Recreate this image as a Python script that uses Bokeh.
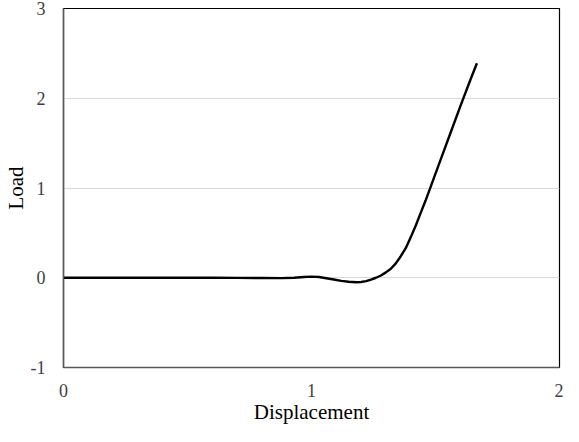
from bokeh.plotting import figure
from bokeh.models import Range1d, FixedTicker
from bokeh.embed import file_html
from bokeh.resources import INLINE

displacement = [0.0, 0.2, 0.4, 0.6, 0.7, 0.8, 0.88, 0.93, 0.97, 1.0, 1.03, 1.06, 1.09, 1.12, 1.15, 1.18, 1.2,
                1.22, 1.24, 1.26, 1.28, 1.3, 1.32, 1.34, 1.36, 1.38, 1.4, 1.42, 1.44, 1.46, 1.48, 1.52, 1.56,
                1.6, 1.64, 1.667]
load = [0.0, 0.0, 0.0, 0.0, -0.001, -0.003, -0.004, 0.0, 0.008, 0.012, 0.008, -0.005, -0.02, -0.035, -0.045,
        -0.05, -0.047, -0.037, -0.02, 0.0, 0.025, 0.06, 0.1, 0.16, 0.24, 0.33, 0.45, 0.58, 0.72, 0.86, 1.01,
        1.31, 1.61, 1.91, 2.2, 2.39]
x_ticks = [0, 1, 2]
y_ticks = [-1, 0, 1, 2, 3]

p = figure(width=563, height=426, output_backend="svg", toolbar_location=None,
           x_range=Range1d(0, 2), y_range=Range1d(-1, 3),
           min_border_left=52, min_border_right=4, min_border_top=8, min_border_bottom=55)

p.line(displacement, load, line_color="black", line_width=2.4, line_join="round")

p.outline_line_color = "black"
p.outline_line_width = 1.2
p.xgrid.visible = False
p.ygrid.grid_line_color = "#d9d9d9"
p.ygrid.grid_line_width = 1

for ax in (p.xaxis[0], p.yaxis[0]):
    ax.major_tick_line_color = None
    ax.minor_tick_line_color = None
    ax.axis_line_color = "#595959"
    ax.axis_line_width = 1.5
    ax.major_label_text_font = "Liberation Serif"
    ax.major_label_text_font_size = "18px"
    ax.major_label_text_color = "#404040"
    ax.axis_label_text_font = "Liberation Serif"
    ax.axis_label_text_font_size = "21px"
    ax.axis_label_text_font_style = "normal"
    ax.axis_label_text_color = "black"

p.xaxis.ticker = FixedTicker(ticks=x_ticks)
p.yaxis.ticker = FixedTicker(ticks=y_ticks)
p.yaxis.major_label_overrides = {-1: "-1"}
p.xaxis.axis_label = "Displacement"
p.yaxis.axis_label = "Load"
p.xaxis.major_label_standoff = 10
p.yaxis.major_label_standoff = 12
p.xaxis.axis_label_standoff = 0
p.yaxis.axis_label_standoff = 0

open("out.html", "w").write(file_html(p, INLINE))
